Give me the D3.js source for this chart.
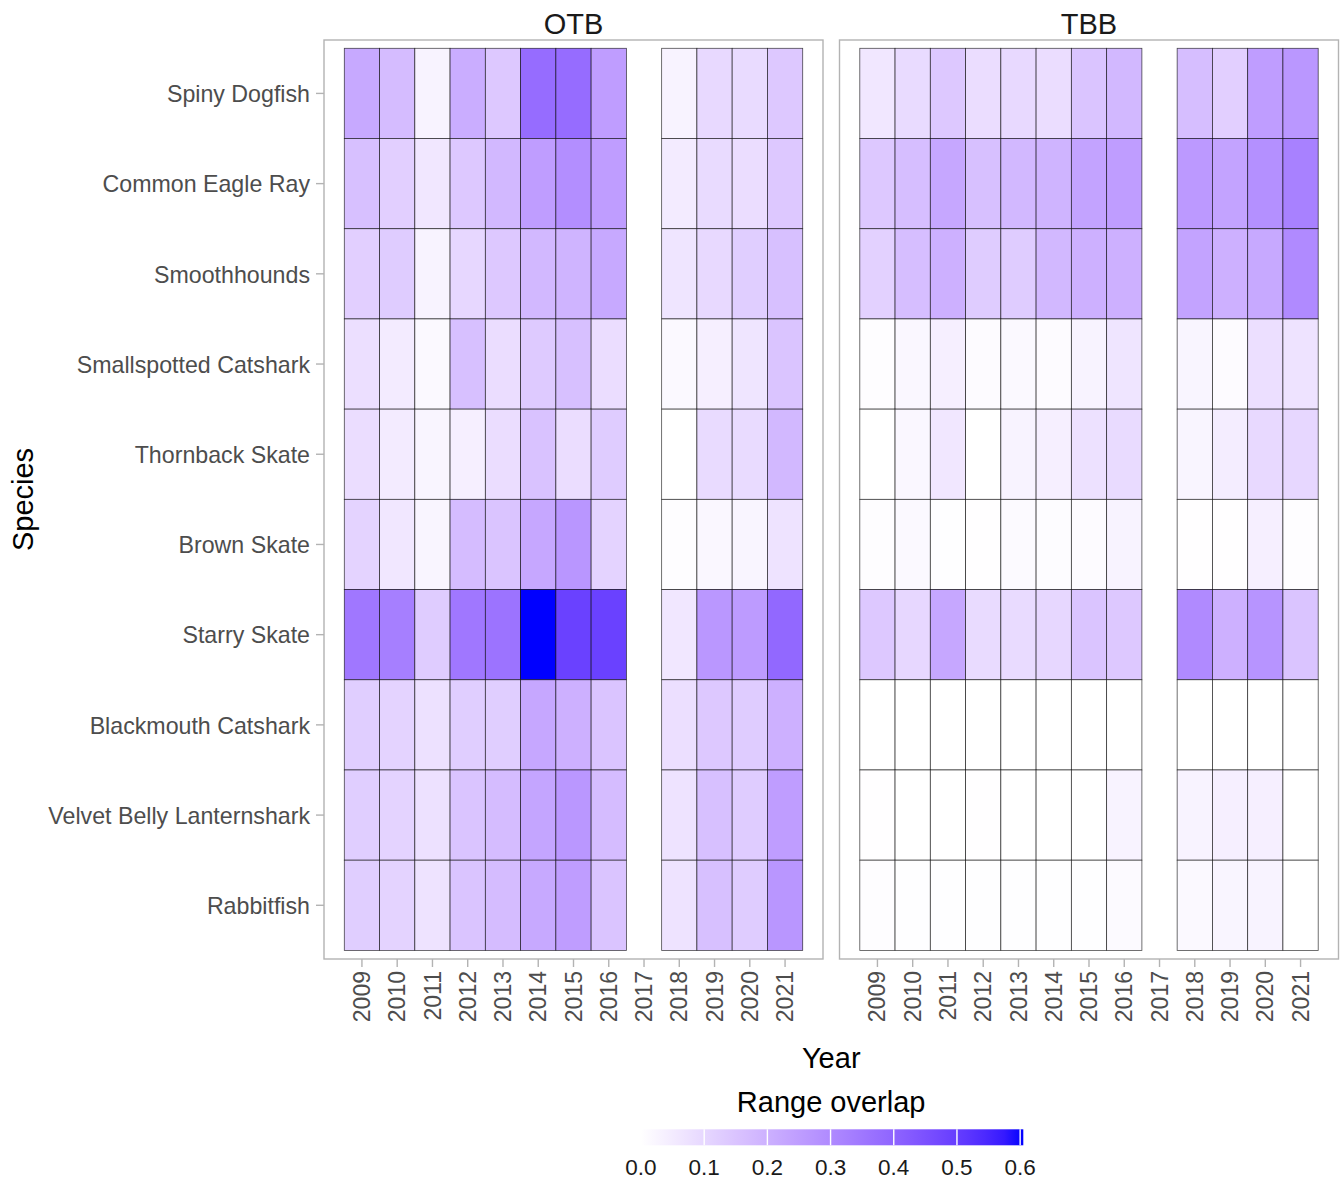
<!DOCTYPE html>
<html>
<head>
<meta charset="utf-8">
<script src="https://cdn.jsdelivr.net/npm/d3@7"></script>
<style>
  body { margin: 0; background: #fff; }
  svg { display: block; font-family: "Liberation Sans", Arial, Helvetica, sans-serif; }
</style>
</head>
<body>
<svg id="chart"></svg>
<script>
// tick labels / categories
const years = ["2009","2010","2011","2012","2013","2014","2015","2016","2017","2018","2019","2020","2021"];
const species = ["Spiny Dogfish","Common Eagle Ray","Smoothhounds","Smallspotted Catshark","Thornback Skate",
  "Brown Skate","Starry Skate","Blackmouth Catshark","Velvet Belly Lanternshark","Rabbitfish"];
const gears = ["OTB", "TBB"];
const legendTicks = [0.0, 0.1, 0.2, 0.3, 0.4, 0.5, 0.6];
const overlapMax = 0.605;

// range overlap, one row per species, one value per year (2017 has no survey: null)
const otbValues = [
  [0.22, 0.17, 0.03, 0.21, 0.14, 0.38, 0.38, 0.25, null, 0.03, 0.095, 0.09, 0.14],
  [0.16, 0.12, 0.06, 0.14, 0.18, 0.25, 0.29, 0.25, null, 0.05, 0.09, 0.085, 0.14],
  [0.12, 0.13, 0.03, 0.10, 0.14, 0.18, 0.19, 0.22, null, 0.065, 0.095, 0.125, 0.16],
  [0.08, 0.05, 0.015, 0.16, 0.085, 0.135, 0.16, 0.085, null, 0.015, 0.04, 0.065, 0.15],
  [0.085, 0.05, 0.025, 0.04, 0.085, 0.155, 0.085, 0.13, null, 0.0, 0.09, 0.09, 0.18],
  [0.11, 0.06, 0.025, 0.17, 0.15, 0.225, 0.27, 0.11, null, 0.005, 0.02, 0.025, 0.07],
  [0.35, 0.33, 0.13, 0.35, 0.36, 0.605, 0.49, 0.49, null, 0.06, 0.265, 0.255, 0.39],
  [0.125, 0.11, 0.075, 0.125, 0.125, 0.225, 0.2, 0.15, null, 0.08, 0.14, 0.13, 0.2],
  [0.125, 0.11, 0.075, 0.15, 0.17, 0.23, 0.265, 0.17, null, 0.07, 0.16, 0.13, 0.25],
  [0.125, 0.11, 0.07, 0.15, 0.17, 0.22, 0.25, 0.15, null, 0.07, 0.16, 0.13, 0.27]
];
const tbbValues = [
  [0.06, 0.09, 0.14, 0.085, 0.095, 0.085, 0.15, 0.18, null, 0.165, 0.12, 0.25, 0.265],
  [0.14, 0.165, 0.225, 0.16, 0.18, 0.19, 0.235, 0.25, null, 0.26, 0.235, 0.285, 0.325],
  [0.115, 0.165, 0.2, 0.13, 0.13, 0.18, 0.2, 0.2, null, 0.235, 0.2, 0.22, 0.3],
  [0.005, 0.02, 0.04, 0.01, 0.015, 0.01, 0.03, 0.065, null, 0.025, 0.01, 0.08, 0.07],
  [0.0, 0.02, 0.06, 0.0, 0.03, 0.04, 0.075, 0.09, null, 0.025, 0.045, 0.095, 0.1],
  [0.005, 0.015, 0.003, 0.002, 0.012, 0.008, 0.01, 0.03, null, 0.002, 0.002, 0.04, 0.005],
  [0.14, 0.1, 0.225, 0.09, 0.09, 0.1, 0.15, 0.14, null, 0.3, 0.2, 0.275, 0.15],
  [0.0, 0.0, 0.0, 0.0, 0.0, 0.0, 0.0, 0.0, null, 0.0, 0.0, 0.0, 0.0],
  [0.002, 0.0, 0.0, 0.002, 0.0, 0.0, 0.0, 0.03, null, 0.03, 0.04, 0.04, 0.0],
  [0.005, 0.003, 0.003, 0.003, 0.003, 0.003, 0.003, 0.012, null, 0.015, 0.025, 0.03, 0.0]
];

const W = 1340, H = 1179;
const svg = d3.select("#chart").attr("width", W).attr("height", H);

const panelW = 499, panelTop = 40, panelBottom = 959;
const panelLefts = [324, 839.5];
const padX = 20.3;

const color = d3.scaleSequential(d3.interpolateLab("#ffffff", "#0000ff")).domain([0, overlapMax]);
const y = d3.scaleBand().domain(species).range([48.3, 950.4]);

const tables = [otbValues, tbbValues];

gears.forEach((gear, gi) => {
  const px = panelLefts[gi];
  const x = d3.scaleBand().domain(years).range([px + padX, px + panelW - padX]);
  const g = svg.append("g");

  // strip label
  g.append("text")
    .attr("x", px + panelW / 2).attr("y", 34)
    .attr("text-anchor", "middle")
    .attr("font-size", 29).attr("fill", "#1a1a1a")
    .text(gear);

  const cells = [];
  tables[gi].forEach((row, si) => {
    row.forEach((v, yi) => {
      if (v !== null) cells.push({ sp: species[si], yr: years[yi], v: v });
    });
  });

  g.selectAll("rect.tile")
    .data(cells)
    .enter()
    .append("rect")
    .attr("class", "tile")
    .attr("x", d => x(d.yr))
    .attr("y", d => y(d.sp))
    .attr("width", x.bandwidth())
    .attr("height", y.bandwidth())
    .attr("fill", d => color(d.v))
    .attr("stroke", "#000")
    .attr("stroke-opacity", 0.7)
    .attr("stroke-width", 0.8);

  // panel border
  g.append("rect")
    .attr("x", px).attr("y", panelTop)
    .attr("width", panelW).attr("height", panelBottom - panelTop)
    .attr("fill", "none").attr("stroke", "#b3b3b3").attr("stroke-width", 1.4);

  // x axis
  const xAxis = g.append("g").attr("transform", `translate(0,${panelBottom})`)
    .call(d3.axisBottom(x).tickSize(8).tickPadding(4));
  xAxis.select(".domain").remove();
  xAxis.selectAll(".tick line").attr("stroke", "#b3b3b3").attr("stroke-width", 1.4);
  xAxis.selectAll(".tick text")
    .attr("font-size", 23).attr("fill", "#4d4d4d")
    .attr("font-family", "Liberation Sans, Arial, sans-serif")
    .attr("text-anchor", "end")
    .attr("transform", "translate(0,12) rotate(-90)")
    .attr("x", 0).attr("y", 0).attr("dy", "0.35em");

  // y axis on first panel only
  if (gi === 0) {
    const yAxis = g.append("g").attr("transform", `translate(${px},0)`)
      .call(d3.axisLeft(y).tickSize(8).tickPadding(6));
    yAxis.select(".domain").remove();
    yAxis.selectAll(".tick line").attr("stroke", "#b3b3b3").attr("stroke-width", 1.4);
    yAxis.selectAll(".tick text")
      .attr("font-size", 23.2).attr("fill", "#4d4d4d")
      .attr("font-family", "Liberation Sans, Arial, sans-serif")
      .attr("dy", "0.38em");
  }
});

// axis titles
svg.append("text")
  .attr("x", (panelLefts[0] + panelLefts[1] + panelW) / 2).attr("y", 1068)
  .attr("text-anchor", "middle").attr("font-size", 29).attr("fill", "#000")
  .text("Year");

svg.append("text")
  .attr("transform", `translate(33,${(panelTop + panelBottom) / 2}) rotate(-90)`)
  .attr("text-anchor", "middle").attr("font-size", 29).attr("fill", "#000")
  .text("Species");

// legend
const legX = d3.scaleLinear().domain([0, overlapMax]).range([641, 1023.3]);
const leg = svg.append("g");

leg.append("text")
  .attr("x", (legX.range()[0] + legX.range()[1]) / 2 - 1).attr("y", 1112)
  .attr("text-anchor", "middle").attr("font-size", 29).attr("fill", "#000")
  .text("Range overlap");

const grad = svg.append("defs").append("linearGradient").attr("id", "legGrad");
d3.range(0, 1.0001, 0.05).forEach(t => {
  grad.append("stop").attr("offset", t).attr("stop-color", color(t * overlapMax));
});

leg.append("rect")
  .attr("x", legX(0)).attr("y", 1129.3)
  .attr("width", legX(overlapMax) - legX(0)).attr("height", 16)
  .attr("fill", "url(#legGrad)");

leg.selectAll("line.tk")
  .data(legendTicks.filter(d => d > 0))
  .enter()
  .append("line")
  .attr("class", "tk")
  .attr("x1", d => legX(d)).attr("x2", d => legX(d))
  .attr("y1", 1129.3).attr("y2", 1145.3)
  .attr("stroke", "#fff").attr("stroke-width", 1.4);

leg.selectAll("text.lab")
  .data(legendTicks)
  .enter()
  .append("text")
  .attr("class", "lab")
  .attr("x", d => legX(d)).attr("y", 1175)
  .attr("text-anchor", "middle").attr("font-size", 22.5).attr("fill", "#1a1a1a")
  .text(d => d3.format(".1f")(d));
</script>
</body>
</html>
